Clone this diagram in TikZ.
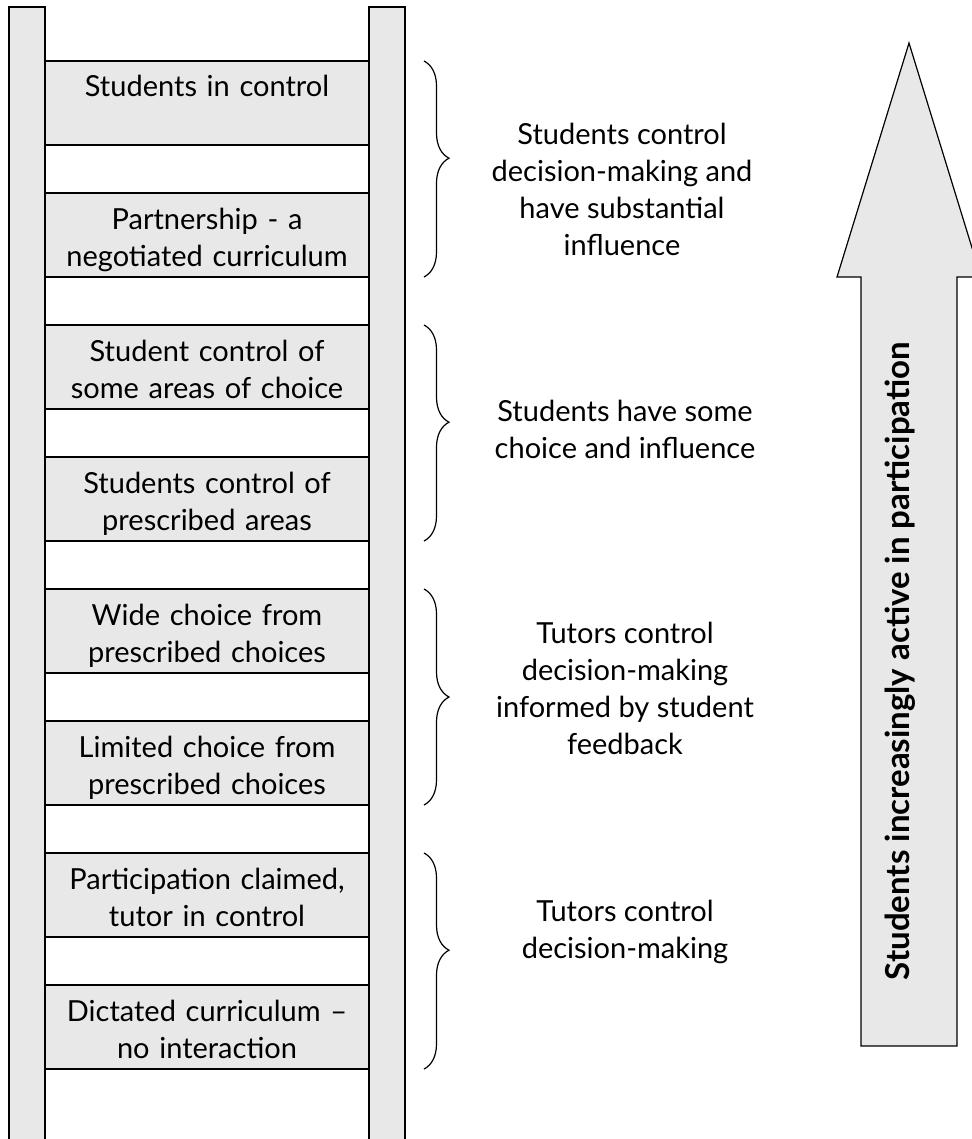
\documentclass[tikz,border=0pt]{standalone}
\usepackage{fontspec}
\setmainfont{Lato}
\usepackage{tikz}
\usetikzlibrary{positioning}
\usetikzlibrary{decorations.pathreplacing}
\definecolor{ladderfill}{RGB}{232,232,232}

\begin{document}
\begin{tikzpicture}[
  x=0.5pt, y=-0.5pt,
  font=\fontsize{14.5pt}{18.5pt}\selectfont,
  line width=0.6pt,
  rail/.style={draw, fill=ladderfill},
  rung/.style={draw, fill=ladderfill, align=center, text width=162pt, inner sep=0pt, outer sep=0pt, text height=18pt, text depth=24pt},
  side/.style={align=center, inner sep=0pt},
  brace/.style={decorate, decoration={brace, amplitude=12.5pt, aspect=#1}},
  brace/.default=0.45
]
\useasboundingbox (0,0) rectangle (972,1139);
\clip (0,0) rectangle (972,1139);

% ladder rails
\filldraw[rail] (9,1150) -- (9,7) -- (45,7) -- (45,1150);
\filldraw[rail] (369,1150) -- (369,7) -- (405,7) -- (405,1150);

% rungs
\node[rung, anchor=north west] (incontrol) at (45,61) {Students in control};
\node[rung, below=24pt of incontrol] (partner) {Partnership - a\\negotiated curriculum};
\node[rung, below=24pt of partner] (someareas) {Student control of\\some areas of choice};
\node[rung, below=24pt of someareas] (prescribed) {Students control of\\prescribed areas};
\node[rung, below=24pt of prescribed] (widechoice) {Wide choice from\\prescribed choices};
\node[rung, below=24pt of widechoice] (limited) {Limited choice from\\prescribed choices};
\node[rung, below=24pt of limited] (claimed) {Participation claimed,\\tutor in control};
\node[rung, below=24pt of claimed] (dictated) {Dictated curriculum --\\no interaction};

% braces
\coordinate (bx) at (424,0);
\draw[brace] (incontrol.north -| bx) -- (partner.south -| bx);
\draw[brace] (someareas.north -| bx) -- (prescribed.south -| bx);
\draw[brace=0.5] (widechoice.north -| bx) -- (limited.south -| bx);
\draw[brace] (claimed.north -| bx) -- (dictated.south -| bx);

% group labels
\node[side] (substantial) at (622,189) {Students control\\decision-making and\\have substantial\\influence};
\node[side] (somechoice) at (625,429) {Students have some\\choice and influence};
\node[side] (feedback) at (625,688) {Tutors control\\decision-making\\informed by student\\feedback};
\node[side] (tutorctrl) at (625,932) {Tutors control\\decision-making};

% big arrow
\filldraw[rail] (861,1046) -- (861,277) -- (837,277) -- (909,43) -- (981,277) -- (957,277) -- (957,1046) -- cycle;
\node[rotate=90, anchor=base, font=\fontsize{16.5pt}{18.5pt}\selectfont\bfseries] (active) at (909,661) {Students increasingly active in participation};

\end{tikzpicture}
\end{document}
